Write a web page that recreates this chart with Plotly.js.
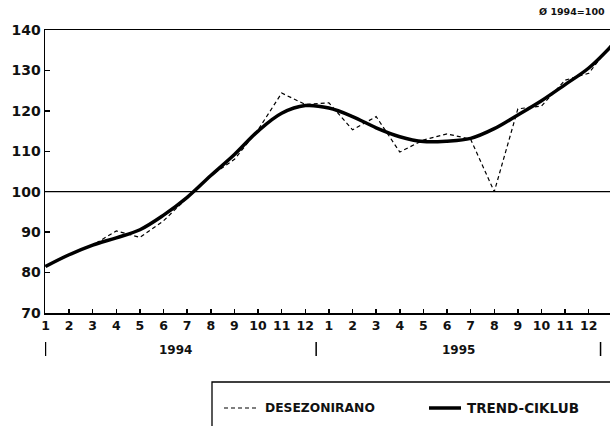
<!DOCTYPE html>
<html>
<head>
<meta charset="utf-8">
<script src="https://cdn.plot.ly/plotly-3.0.1.min.js"></script>
<style>html,body{margin:0;padding:0;background:#fff;}#chart{width:610px;height:426px;}</style>
</head>
<body>
<div id="chart"></div>
<script>
// month index (1 = Jan 1994 ... 24 = Dec 1995, 25 = Jan 1996 cut at edge)
const months = [1,2,3,4,5,6,7,8,9,10,11,12,13,14,15,16,17,18,19,20,21,22,23,24,25];
const monthLabels = ['1','2','3','4','5','6','7','8','9','10','11','12','1','2','3','4','5','6','7','8','9','10','11','12'];
const desezonirano = [81.5,84.5,86.8,90.3,88.7,92.8,98.5,104.0,108.0,115.3,124.4,121.6,122.0,115.3,118.6,109.8,112.8,114.3,113.0,100.0,120.5,121.2,127.6,129.3,136.8];
const trendCiklus = [81.5,84.4,86.8,88.6,90.6,94.2,98.6,104.0,109.2,115.0,119.4,121.3,120.7,118.6,115.8,113.6,112.4,112.5,113.2,115.6,119.0,122.5,126.5,130.6,136.3];
const yTicks = [70,80,90,100,110,120,130,140];
const yearLabels = ['1994','1995'];
const seriesNames = ['DESEZONIRANO','TREND-CIKLUB'];

const boldFont = (size) => ({family: 'DejaVu Sans', size: size, weight: 'bold', color: '#111'});

const traces = [
  {x: months, y: desezonirano, name: seriesNames[0], mode: 'lines',
   line: {color: '#000', width: 1.2, dash: '4px,3px'}},
  {x: months, y: trendCiklus, name: seriesNames[1], mode: 'lines',
   line: {color: '#000', width: 3.5, shape: 'spline', smoothing: 1}}
];

const px2x = (px) => (px - 45) / 565;
const px2y = (py) => (313 - py) / 283;

const layout = {
  width: 610, height: 426,
  margin: {l: 45, r: 0, t: 30, b: 113},
  paper_bgcolor: '#fff', plot_bgcolor: '#fff',
  font: {family: 'DejaVu Sans, sans-serif', color: '#000'},
  showlegend: false,
  xaxis: {range: [0.98, 24.9], tickvals: months.slice(0,24), ticktext: monthLabels,
    showgrid: false, zeroline: false, showline: true, mirror: true, linecolor: '#000', linewidth: 1.5,
    ticks: 'inside', ticklen: 4, tickwidth: 1.5, tickcolor: '#000', automargin: false,
    tickfont: boldFont(12.5)},
  yaxis: {range: [70, 140], tickvals: yTicks,
    showgrid: false, zeroline: false, showline: true, linecolor: '#000', linewidth: 1.5,
    ticks: 'inside', ticklen: 5, tickwidth: 1.5, tickcolor: '#000', automargin: false,
    tickfont: boldFont(14)},
  shapes: [
    {type: 'line', xref: 'paper', yref: 'y', x0: 0, x1: 1, y0: 100, y1: 100, line: {color: '#000', width: 1.2}},
    {type: 'line', xref: 'x', yref: 'paper', x0: 1, x1: 1, y0: px2y(342), y1: px2y(356), line: {color: '#000', width: 1.5}},
    {type: 'line', xref: 'x', yref: 'paper', x0: 12.46, x1: 12.46, y0: px2y(342), y1: px2y(356), line: {color: '#000', width: 1.5}},
    {type: 'line', xref: 'x', yref: 'paper', x0: 24.5, x1: 24.5, y0: px2y(342), y1: px2y(356), line: {color: '#000', width: 1.5}},
    {type: 'rect', xref: 'paper', yref: 'paper', x0: px2x(212), x1: px2x(640), y0: px2y(382), y1: px2y(460), line: {color: '#000', width: 1.3}},
    {type: 'line', xref: 'paper', yref: 'paper', x0: px2x(224), x1: px2x(258), y0: px2y(408), y1: px2y(408), line: {color: '#000', width: 1.2, dash: '4px,3px'}},
    {type: 'line', xref: 'paper', yref: 'paper', x0: px2x(429), x1: px2x(461), y0: px2y(408), y1: px2y(408), line: {color: '#000', width: 3.5}}
  ],
  annotations: [
    {xref: 'x', yref: 'paper', x: 6.5, y: px2y(350), text: yearLabels[0], showarrow: false, yanchor: 'middle', font: boldFont(12)},
    {xref: 'x', yref: 'paper', x: 18.5, y: px2y(350), text: yearLabels[1], showarrow: false, yanchor: 'middle', font: boldFont(12)},
    {xref: 'paper', yref: 'paper', x: px2x(265), y: px2y(408), text: seriesNames[0], showarrow: false, xanchor: 'left', yanchor: 'middle', xshift: -2, font: boldFont(12.3)},
    {xref: 'paper', yref: 'paper', x: px2x(467), y: px2y(408), text: seriesNames[1], showarrow: false, xanchor: 'left', yanchor: 'middle', xshift: -2, font: boldFont(13.5)},
    {xref: 'paper', yref: 'paper', x: px2x(607), y: px2y(12), text: 'Ø 1994=100', showarrow: false, xanchor: 'right', yanchor: 'middle', font: boldFont(9.5)}
  ]
};

Plotly.newPlot('chart', traces, layout, {displayModeBar: false, staticPlot: true});
</script>
</body>
</html>
